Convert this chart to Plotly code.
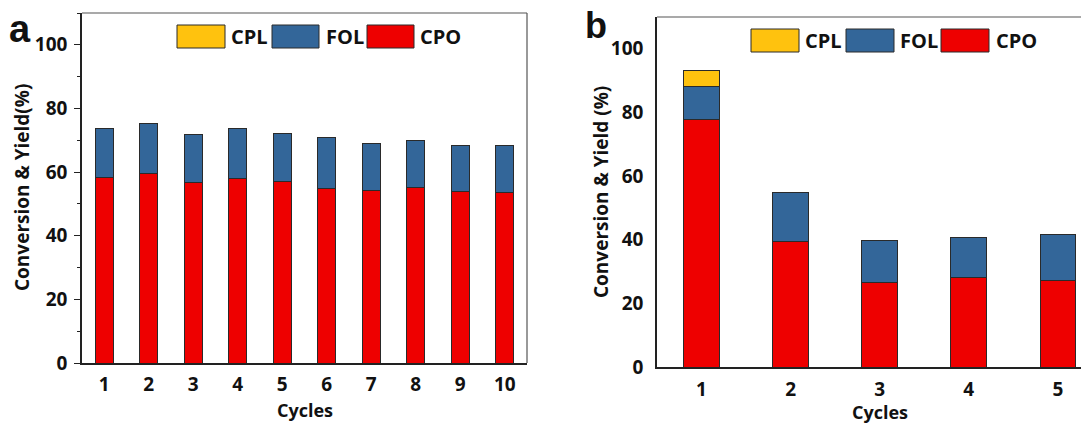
import plotly.graph_objects as go

# ---------------- data ----------------
cycles_a = [1, 2, 3, 4, 5, 6, 7, 8, 9, 10]
cpo_a = [58.3, 59.6, 56.7, 58.0, 57.1, 54.9, 54.2, 55.2, 54.0, 53.6]
fol_a = [15.4, 15.8, 15.1, 15.7, 15.0, 15.9, 14.8, 14.7, 14.3, 14.7]
cpl_a = [0, 0, 0, 0, 0, 0, 0, 0, 0, 0]

cycles_b = [1, 2, 3, 4, 5]
cpo_b = [77.9, 39.5, 26.6, 28.2, 27.1]
fol_b = [10.2, 15.5, 13.2, 12.4, 14.7]
cpl_b = [5.2, 0, 0, 0, 0]

series_names = ["CPO", "FOL", "CPL"]
legend_order = ["CPL", "FOL", "CPO"]
colors = {"CPO": "#EE0000", "FOL": "#336699", "CPL": "#FFC20E"}
y_ticks = [0, 20, 40, 60, 80, 100]

# ---------------- layout helpers ----------------
# The page body keeps an 8px margin, so the figure is sized to fit the
# 1089x425 window and page pixel positions are offset by that margin.
PAGE_W, PAGE_H = 1089, 425
OFF = 8
W, H = PAGE_W - OFF, PAGE_H - OFF
FONT = "Open Sans"
EDGE = "#2a2a2a"


def px(x):
    return (x - OFF) / W


def py(y):
    return 1 - (y - OFF) / H


fig = go.Figure()

for name, vals in zip(series_names, [cpo_a, fol_a, cpl_a]):
    fig.add_trace(go.Bar(x=cycles_a, y=vals, name=name, width=0.4,
                         marker=dict(color=colors[name], line=dict(color=EDGE, width=1)),
                         xaxis="x", yaxis="y", showlegend=False))
for name, vals in zip(series_names, [cpo_b, fol_b, cpl_b]):
    fig.add_trace(go.Bar(x=cycles_b, y=vals, name=name, width=0.4,
                         marker=dict(color=colors[name], line=dict(color=EDGE, width=1)),
                         xaxis="x2", yaxis="y2", showlegend=False))

xtickfont = dict(family=FONT, size=19, color="#111", weight="bold")
ytickfont = dict(family=FONT, size=19, color="#111", weight="bold")

fig.update_layout(
    width=W, height=H, barmode="stack",
    margin=dict(l=0, r=0, t=0, b=0, autoexpand=False),
    paper_bgcolor="white", plot_bgcolor="white",
    xaxis=dict(domain=[px(82), px(527)], range=[0.5, 10.5], anchor="y", automargin=False,
               tickvals=cycles_a, ticks="", showline=True, linecolor="#222", linewidth=1.5,
               showgrid=False, zeroline=False, tickfont=xtickfont, ticklabelstandoff=3),
    yaxis=dict(domain=[py(363), py(13)], range=[0, 110], anchor="x", automargin=False,
               tickvals=y_ticks, ticks="outside", ticklen=6, tickwidth=1.2, tickcolor="#222",
               minor=dict(ticks="outside", ticklen=3, dtick=10, tickcolor="#222", tickwidth=1),
               showline=True, linecolor="#222", linewidth=1.5,
               showgrid=False, zeroline=False, tickfont=ytickfont, ticklabelstandoff=3),
    xaxis2=dict(domain=[px(657), 1], range=[0.5, 5.35], anchor="y2", automargin=False,
                tickvals=cycles_b, ticks="", showline=True, linecolor="#222", linewidth=1.5,
                showgrid=False, zeroline=False, tickfont=xtickfont, ticklabelstandoff=4),
    yaxis2=dict(domain=[py(367), py(17)], range=[0, 110], anchor="x2", automargin=False,
                tickvals=y_ticks, ticks="", showline=True, linecolor="#222", linewidth=1.5,
                showgrid=False, zeroline=False, tickfont=ytickfont, ticklabelstandoff=8),
)

# frame lines (top / right)
fig.add_shape(type="line", xref="x domain", yref="y domain", x0=0, x1=1, y0=1, y1=1,
              line=dict(color="#555", width=1.2))
fig.add_shape(type="line", xref="x domain", yref="y domain", x0=1, x1=1, y0=0, y1=1,
              line=dict(color="#555", width=1.2))
fig.add_shape(type="line", xref="x2 domain", yref="y2 domain", x0=0, x1=1, y0=1, y1=1,
              line=dict(color="#555", width=1.2))

# custom legends (wide swatches)
legend_a = [(177, 225, 229), (272, 319, 324), (367, 414, 418)]
legend_b = [(751, 799, 803), (846, 894, 898), (941, 989, 994)]
for entries, (ytop, ybot) in [(legend_a, (25, 48)), (legend_b, (29, 52))]:
    for name, (x0, x1, xt) in zip(legend_order, entries):
        fig.add_shape(type="rect", xref="paper", yref="paper",
                      x0=px(x0), x1=px(x1), y0=py(ybot), y1=py(ytop),
                      fillcolor=colors[name], line=dict(color=EDGE, width=1))
        fig.add_annotation(text=name, xref="paper", yref="paper", x=px(xt), y=py((ytop + ybot) / 2),
                           xanchor="left", yanchor="middle", showarrow=False,
                           font=dict(family=FONT, size=20, color="#111", weight="bold"))

# panel letters
fig.add_annotation(text="a", xref="paper", yref="paper", x=px(20), y=py(29), showarrow=False,
                   xanchor="center", yanchor="middle",
                   font=dict(family="Liberation Sans", size=38, color="#111", weight="bold"))
fig.add_annotation(text="b", xref="paper", yref="paper", x=px(596), y=py(26), showarrow=False,
                   xanchor="center", yanchor="middle",
                   font=dict(family="Liberation Sans", size=36, color="#111", weight="bold"))

# axis titles
title_font = dict(family=FONT, size=19, color="#111", weight="bold")
fig.add_annotation(text="Conversion & Yield(%)", xref="paper", yref="paper", x=px(22), y=py(188),
                   textangle=-90, showarrow=False, xanchor="center", yanchor="middle", font=title_font)
fig.add_annotation(text="Conversion & Yield (%)", xref="paper", yref="paper", x=px(601), y=py(192),
                   textangle=-90, showarrow=False, xanchor="center", yanchor="middle", font=title_font)
fig.add_annotation(text="Cycles", xref="x", yref="paper", x=5.5, y=py(410), showarrow=False,
                   xanchor="center", yanchor="middle", font=dict(family=FONT, size=18, color="#111", weight="bold"))
fig.add_annotation(text="Cycles", xref="x2", yref="paper", x=3, y=py(412), showarrow=False,
                   xanchor="center", yanchor="middle", font=dict(family=FONT, size=18, color="#111", weight="bold"))

fig.write_html("out.html")
